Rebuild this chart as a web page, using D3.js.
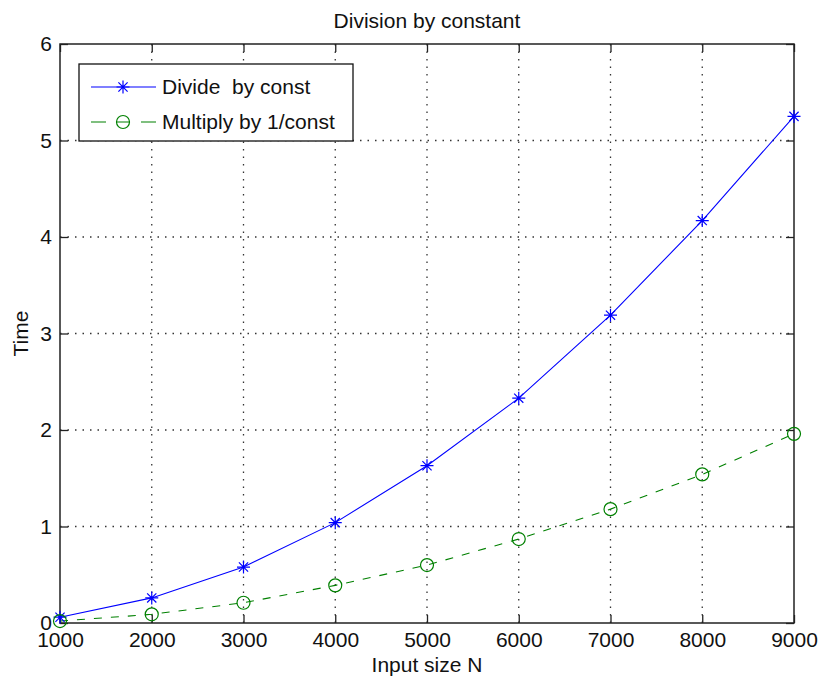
<!DOCTYPE html>
<html>
<head>
<meta charset="utf-8">
<script src="https://cdn.jsdelivr.net/npm/d3@7"></script>
<style>
  body { margin: 0; background: #fff; }
  svg { display: block; }
</style>
</head>
<body>
<svg id="chart" width="818" height="682"></svg>
<script>

// data
let input_sizes = [1000, 2000, 3000, 4000, 5000, 6000, 7000, 8000, 9000];
let divide_times = [0.06, 0.26, 0.58, 1.04, 1.63, 2.33, 3.19, 4.17, 5.25];
let multiply_times = [0.02, 0.09, 0.21, 0.39, 0.60, 0.87, 1.18, 1.54, 1.96];
let x_ticks = [1000, 2000, 3000, 4000, 5000, 6000, 7000, 8000, 9000];
let y_ticks = [0, 1, 2, 3, 4, 5, 6];
let series_names = ["Divide  by const", "Multiply by 1/const"];


function draw_chart( svg_id ){

    let svg = d3.select(svg_id);
    let left = 60, right = 794, top = 44, bottom = 623;
    let font = "'Liberation Sans', Arial, sans-serif";
    let fontSize = "21px";
    let axisColor = "#222";

    let x = d3.scaleLinear().domain([1000, 9000]).range([left, right]);
    let y = d3.scaleLinear().domain([0, 6]).range([bottom, top]);

    // grid
    let grid = svg.append("g")
        .attr("stroke", "#333")
        .attr("stroke-width", 1.3)
        .attr("stroke-dasharray", "1.5,6");
    grid.selectAll("line.gx")
        .data(x_ticks.slice(1, -1))
        .enter().append("line")
        .attr("x1", d => x(d)).attr("x2", d => x(d))
        .attr("y1", top).attr("y2", bottom);
    grid.selectAll("line.gy")
        .data(y_ticks.slice(1, -1))
        .enter().append("line")
        .attr("y1", d => y(d)).attr("y2", d => y(d))
        .attr("x1", left).attr("x2", right);

    // axes with inward ticks on every side
    let tickLen = 8;
    let xAxis = d3.axisBottom(x).tickValues(x_ticks).tickFormat(d3.format("d"))
        .tickSizeInner(-tickLen).tickSizeOuter(0).tickPadding(9);
    let yAxis = d3.axisLeft(y).tickValues(y_ticks).tickFormat(d3.format("d"))
        .tickSizeInner(-tickLen).tickSizeOuter(0).tickPadding(8);

    svg.append("g").attr("transform", "translate(0," + bottom + ")").call(xAxis);
    svg.append("g").attr("transform", "translate(" + left + ",0)").call(yAxis);
    svg.append("g").attr("transform", "translate(0," + top + ")")
        .call(d3.axisTop(x).tickValues(x_ticks).tickSizeInner(-tickLen).tickSizeOuter(0).tickFormat(""));
    svg.append("g").attr("transform", "translate(" + right + ",0)")
        .call(d3.axisRight(y).tickValues(y_ticks).tickSizeInner(-tickLen).tickSizeOuter(0).tickFormat(""));

    svg.selectAll(".domain").remove();
    svg.selectAll(".tick line").attr("stroke", axisColor).attr("stroke-width", 1.3);
    svg.selectAll(".tick text")
        .attr("font-family", font)
        .attr("font-size", fontSize)
        .attr("fill", "#111");

    svg.append("rect")
        .attr("x", left).attr("y", top)
        .attr("width", right - left).attr("height", bottom - top)
        .attr("fill", "none")
        .attr("stroke", axisColor)
        .attr("stroke-width", 1.5);

    // series
    let divide_pts = input_sizes.map( (n, i) => [n, divide_times[i]] );
    let multiply_pts = input_sizes.map( (n, i) => [n, multiply_times[i]] );
    let line = d3.line().x(d => x(d[0])).y(d => y(d[1]));

    svg.append("path")
        .attr("d", line(divide_pts))
        .attr("fill", "none")
        .attr("stroke", "#0000ff")
        .attr("stroke-width", 1.1);

    svg.append("path")
        .attr("d", line(multiply_pts))
        .attr("fill", "none")
        .attr("stroke", "#008000")
        .attr("stroke-width", 1.1)
        .attr("stroke-dasharray", "8,9");

    function star( g, cx, cy, r ){
        let d = r * Math.SQRT1_2;
        g.append("path")
            .attr("d", "M" + (cx-r) + "," + cy + "H" + (cx+r) +
                       "M" + cx + "," + (cy-r) + "V" + (cy+r) +
                       "M" + (cx-d) + "," + (cy-d) + "L" + (cx+d) + "," + (cy+d) +
                       "M" + (cx-d) + "," + (cy+d) + "L" + (cx+d) + "," + (cy-d))
            .attr("stroke", "#0000ff")
            .attr("stroke-width", 1.2)
            .attr("fill", "none");
    }

    function ring( g, cx, cy, r ){
        g.append("circle")
            .attr("cx", cx).attr("cy", cy).attr("r", r)
            .attr("fill", "none")
            .attr("stroke", "#008000")
            .attr("stroke-width", 1.2);
    }

    let gm = svg.append("g");
    divide_pts.forEach( d => star( gm, x(d[0]), y(d[1]), 6.5 ) );
    multiply_pts.forEach( d => ring( gm, x(d[0]), y(d[1]), 6.5 ) );

    // title and labels
    svg.append("text")
        .attr("x", (left + right) / 2).attr("y", 28)
        .attr("text-anchor", "middle")
        .attr("font-family", font).attr("font-size", fontSize)
        .attr("fill", "#111")
        .text("Division by constant");

    svg.append("text")
        .attr("x", (left + right) / 2).attr("y", 672)
        .attr("text-anchor", "middle")
        .attr("font-family", font).attr("font-size", fontSize)
        .attr("fill", "#111")
        .text("Input size N");

    svg.append("text")
        .attr("transform", "translate(28," + ((top + bottom) / 2) + ") rotate(-90)")
        .attr("text-anchor", "middle")
        .attr("font-family", font).attr("font-size", fontSize)
        .attr("fill", "#111")
        .text("Time");

    // legend
    let lg = svg.append("g");
    lg.append("rect")
        .attr("x", 79).attr("y", 64)
        .attr("width", 274).attr("height", 77)
        .attr("fill", "#fff")
        .attr("stroke", "#111")
        .attr("stroke-width", 1.3);

    let rowY = [87, 122];
    lg.append("line")
        .attr("x1", 91).attr("x2", 156).attr("y1", rowY[0]).attr("y2", rowY[0])
        .attr("stroke", "#0000ff").attr("stroke-width", 1.1);
    star( lg, 123, rowY[0], 6.5 );
    lg.append("line")
        .attr("x1", 91).attr("x2", 156).attr("y1", rowY[1]).attr("y2", rowY[1])
        .attr("stroke", "#008000").attr("stroke-width", 1.1)
        .attr("stroke-dasharray", "15,10,14,11,15");
    ring( lg, 123, rowY[1], 6.5 );

    series_names.forEach( function(name, i){
        lg.append("text")
            .attr("x", 162).attr("y", rowY[i])
            .attr("dy", ".35em")
            .attr("font-family", font).attr("font-size", fontSize)
            .attr("fill", "#111")
            .attr("xml:space", "preserve")
            .style("white-space", "pre")
            .text(name);
    });
}

draw_chart("#chart");

</script>
</body>
</html>
